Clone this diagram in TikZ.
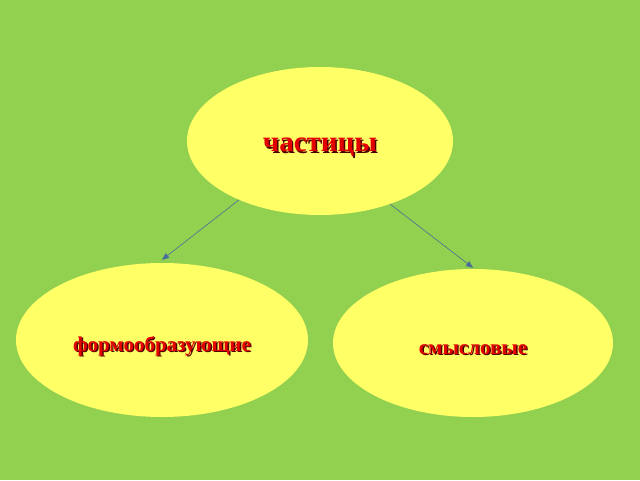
\documentclass[tikz,border=0pt]{standalone}
\usepackage{fontspec}
\setmainfont{Liberation Serif}
\usepackage{tikz}
\usetikzlibrary{arrows,shapes.geometric}
\definecolor{zeqdyq}{rgb}{0.573,0.816,0.314}
\definecolor{ffffuu}{rgb}{1.,1.,0.4}
\definecolor{ffqqqq}{rgb}{0.9,0.,0.}
\definecolor{ttqqqq}{rgb}{0.3,0.,0.}
\definecolor{ttuuzz}{rgb}{0.29,0.43,0.6}
\newcommand{\shtext}[1]{\raisebox{-7pt}[\height][\depth]{\makebox[0pt][l]{\hspace{1.4pt}\raisebox{-1.4pt}{\color{ttqqqq}#1}}{\color{ffqqqq}#1}}}

\begin{document}
\begin{tikzpicture}[line cap=round,line join=round,>=triangle 45,x=1pt,y=1pt]
\clip(0,0) rectangle (640,480);
\fill [color=zeqdyq] (0,0) rectangle (640,480);
\tikzset{oval/.style={ellipse,fill=ffffuu,inner sep=0pt,font=\bfseries}}
\node [oval,minimum width=266pt,minimum height=148pt,font=\bfseries\fontsize{29}{31}\selectfont] (chast) at (320,339) {\shtext{частицы}};
\node [oval,minimum width=292pt,minimum height=154pt,font=\bfseries\fontsize{21}{23}\selectfont] (form) at (162,140) {\shtext{формообразующие}};
\node [oval,minimum width=280pt,minimum height=148pt,font=\bfseries\fontsize{21}{23}\selectfont] (smysl) at (473,137) {\shtext{смысловые}};
\draw [->,line width=0.6pt,color=ttuuzz] (chast.216) -- ([yshift=3pt]form.north);
\draw [->,line width=0.6pt,color=ttuuzz] (chast.318) -- ([yshift=1pt]smysl.north);
\end{tikzpicture}
\end{document}
